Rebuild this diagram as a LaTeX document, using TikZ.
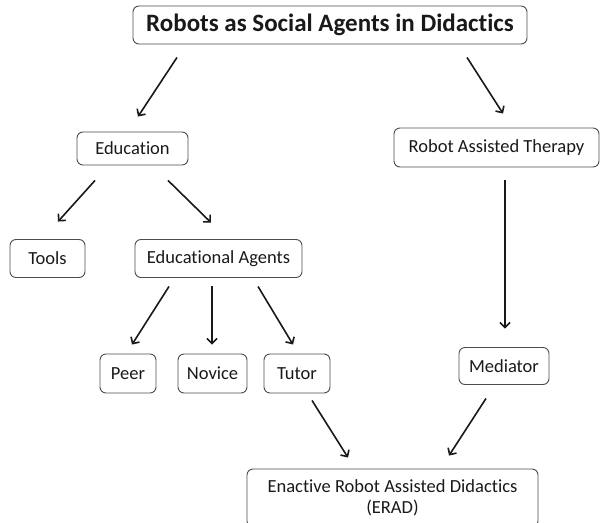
\documentclass[tikz,border=0pt]{standalone}
\usepackage{fontspec}
\setmainfont{Carlito}[Ligatures=NoCommon]
\usetikzlibrary{arrows.meta,calc}
\tikzset{
  box/.style={draw=black!70, line width=0.9pt, rounded corners=6pt, inner sep=0pt, align=center,
    font=\fontsize{18.5}{21}\selectfont, text=black!90},
  arr/.style={draw=black!90, line width=1.6pt, -{Straight Barb[length=5pt,width=10pt,line width=1.6pt]}}
}
\begin{document}
\begin{tikzpicture}[x=1pt,y=1pt]
\useasboundingbox (0,0) rectangle (602,-522);
\node[box, minimum width=394pt, minimum height=38pt, font=\fontsize{25}{28}\selectfont\bfseries] (title) at (330,-25) {Robots as Social Agents in Didactics};
\node[box, minimum width=111pt, minimum height=33pt] (edu) at (132.5,-148.5) {Education};
\node[box, minimum width=205pt, minimum height=39pt] (rat) at (496.5,-147.5) {Robot Assisted Therapy};
\node[box, minimum width=75pt, minimum height=38pt] (tools) at (47.5,-258.5) {Tools};
\node[box, minimum width=167pt, minimum height=38pt] (ea) at (218.5,-258.5) {Educational Agents};
\node[box, minimum width=56pt, minimum height=39pt] (peer) at (128,-373.5) {Peer};
\node[box, minimum width=69pt, minimum height=39pt] (novice) at (212.5,-373.5) {Novice};
\node[box, minimum width=66pt, minimum height=39pt] (tutor) at (297,-373.5) {Tutor};
\node[box, minimum width=90pt, minimum height=37pt] (med) at (504,-366) {Mediator};
\begin{scope}
\clip (0,0) rectangle (602,-522);
\node[box, minimum width=291pt, minimum height=58pt] (erad) at (392.5,-498) {Enactive Robot Assisted Didactics\\(ERAD)};
\end{scope}
\draw[arr] ($(title.south)+(-153,-13)$) -- ($(edu.north)+(5.5,15)$);
\draw[arr] ($(title.south)+(137,-13)$) -- ($(rat.north)+(6.5,14)$);
\draw[arr] ($(edu.south)+(-37.5,-15)$) -- ($(tools.north)+(10.5,17.5)$);
\draw[arr] ($(edu.south)+(35.5,-15)$) -- ($(ea.north)+(-7.5,16.5)$);
\draw[arr] ($(ea.south)+(-49.5,-8.5)$) -- ($(peer.north)+(4,9)$);
\draw[arr] ($(ea.south)+(-6.5,-8.5)$) -- ($(novice.north)+(-0.5,9)$);
\draw[arr] ($(ea.south)+(39.5,-8.5)$) -- ($(tutor.north)+(-4,9)$);
\draw[arr] ($(rat.south)+(8.5,-13)$) -- ($(med.north)+(1,18.5)$);
\draw[arr] ($(tutor.south)+(15,-7)$) -- ($(erad.north)+(-44.5,11)$);
\draw[arr] ($(med.south)+(-18,-13.5)$) -- ($(erad.north)+(56.5,13)$);
\end{tikzpicture}
\end{document}
